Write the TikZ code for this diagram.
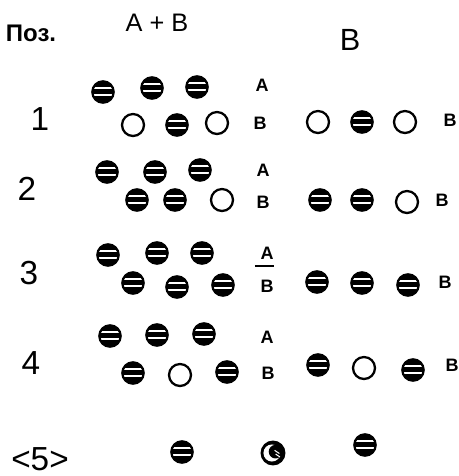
\documentclass[tikz,border=0pt]{standalone}
\usepackage{fontspec}
\setmainfont{Liberation Sans}
\begin{document}
\begin{tikzpicture}[x=0.75pt,y=-0.75pt]
\tikzset{
  full/.style={circle, draw=black, fill=black, line width=1.7pt, minimum size=16pt, inner sep=0pt,
    path picture={
      \draw[white, line width=1.5pt] ([yshift=2.8pt]path picture bounding box.west) -- ([yshift=2.8pt]path picture bounding box.east);
      \draw[white, line width=1.5pt] ([yshift=-2.6pt]path picture bounding box.west) -- ([yshift=-2.6pt]path picture bounding box.east);
    }},
  hollow/.style={circle, draw=black, line width=1.7pt, minimum size=16.5pt, inner sep=0pt},
  moon/.style={circle, draw=black, fill=black, line width=1.7pt, minimum size=17pt, inner sep=0pt,
    path picture={
      \fill[white] ([xshift=-0.8pt]path picture bounding box.center) circle (6.4pt);
      \fill[black] ([xshift=1.9pt,yshift=1pt]path picture bounding box.center) circle (5.1pt);
      \draw[white, line width=0.8pt] ([xshift=1.2pt,yshift=2pt]path picture bounding box.center) -- ([xshift=4.8pt,yshift=-0.4pt]path picture bounding box.center);
      \draw[white, line width=0.8pt] ([xshift=2.0pt,yshift=-0.8pt]path picture bounding box.center) -- ([xshift=5.2pt,yshift=-3pt]path picture bounding box.center);
    }},
  lab/.style={font=\bfseries\fontsize{13.5}{14}\selectfont, inner sep=0pt},
  num/.style={font=\fontsize{25}{27}\selectfont, inner sep=0pt},
  head/.style={font=\fontsize{19}{21}\selectfont, inner sep=0pt},
}
\useasboundingbox (0,0) rectangle (459,476);
% headings
\node[head, font=\bfseries\fontsize{18}{20}\selectfont] (poz) at (31,33) {Поз.};
\node[head] (ab) at (157,23) {A + B};
\node[font=\fontsize{23}{25}\selectfont, inner sep=0pt] (bh) at (350,40) {B};
% row 1
\node[num] (n1) at (40,119) {1};
\node[full] (a11) at (103,92) {};
\node[full] (a12) at (152,88) {};
\node[full] (a13) at (197,87) {};
\node[lab] (la1) at (262,85) {A};
\node[hollow] (b11) at (133,125) {};
\node[full] (b12) at (177,125) {};
\node[hollow] (b13) at (217,123) {};
\node[lab] (lb1) at (260,123) {B};
\node[hollow] (r11) at (318,122) {};
\node[full] (r12) at (362,122) {};
\node[hollow] (r13) at (405,122) {};
\node[lab] (lr1) at (450,120) {B};
% row 2
\node[num] (n2) at (27,189) {2};
\node[full] (a21) at (107,172) {};
\node[full] (a22) at (155,172) {};
\node[full] (a23) at (200,170) {};
\node[lab] (la2) at (263,170) {A};
\node[full] (b21) at (137,200) {};
\node[full] (b22) at (175,200) {};
\node[hollow] (b23) at (222,200) {};
\node[lab] (lb2) at (263,202) {B};
\node[full] (r21) at (320,200) {};
\node[full] (r22) at (362,200) {};
\node[hollow] (r23) at (407,202) {};
\node[lab] (lr2) at (442,200) {B};
% row 3
\node[num] (n3) at (29,273) {3};
\node[full] (a31) at (108,255) {};
\node[full] (a32) at (157,253) {};
\node[full] (a33) at (202,253) {};
\node[lab] (la3) at (267,253) {A};
\node[full] (b31) at (133,283) {};
\node[full] (b32) at (177,287) {};
\node[full] (b33) at (223,285) {};
\node[lab] (lb3) at (267,286) {B};
\draw[line width=1.3pt] ([yshift=-5pt]la3.south west) ++(-4pt,0) coordinate (fl) -- ([yshift=-5pt]la3.south east) ++(4pt,0) coordinate (fr);
\node[full] (r31) at (317,282) {};
\node[full] (r32) at (362,283) {};
\node[full] (r33) at (408,285) {};
\node[lab] (lr3) at (445,282) {B};
% row 4
\node[num] (n4) at (31,363) {4};
\node[full] (a41) at (110,336) {};
\node[full] (a42) at (157,335) {};
\node[full] (a43) at (204,334) {};
\node[lab] (la4) at (267,337) {A};
\node[full] (b41) at (133,373) {};
\node[hollow] (b42) at (180,375) {};
\node[full] (b43) at (227,372) {};
\node[lab] (lb4) at (268,373) {B};
\node[full] (r41) at (318,365) {};
\node[hollow] (r42) at (364,368) {};
\node[full] (r43) at (413,370) {};
\node[lab] (lr4) at (452,365) {B};
% row 5
\node[num] (n5) at (40,459) {\textless 5\textgreater};
\node[full] (c51) at (182,452) {};
\node[moon] (c52) at (273,453) {};
\node[full] (c53) at (365,445) {};
\end{tikzpicture}
\end{document}
